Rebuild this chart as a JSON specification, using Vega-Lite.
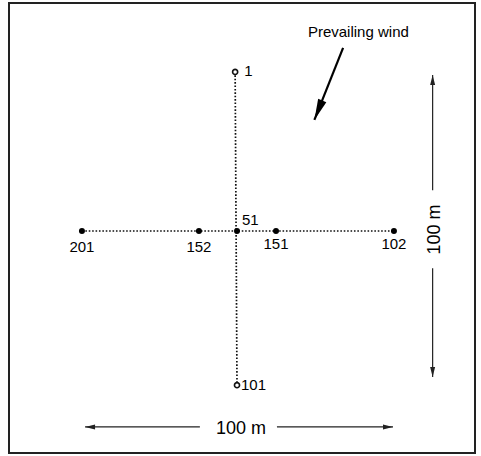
{
  "$schema": "https://vega.github.io/schema/vega-lite/v6.json",
  "width": 466,
  "height": 450,
  "autosize": "none",
  "padding": {"left": 9, "top": 3, "right": 6, "bottom": 3},
  "background": "white",
  "config": {
    "view": {"stroke": "#222", "strokeWidth": 2},
    "text": {"font": "Liberation Sans", "color": "#000"}
  },
  "datasets": {
    "stations": [
      {"id": "1", "x": -0.6, "y": 51, "kind": "open"},
      {"id": "101", "x": 0, "y": -49.4, "kind": "open"},
      {"id": "201", "x": -49.7, "y": 0, "kind": "filled"},
      {"id": "152", "x": -12.2, "y": 0, "kind": "filled"},
      {"id": "51", "x": 0, "y": 0, "kind": "filled"},
      {"id": "151", "x": 12.5, "y": 0, "kind": "filled"},
      {"id": "102", "x": 50.3, "y": 0, "kind": "filled"}
    ],
    "transects": [
      {"x": -49.7, "y": 0, "x2": 50.3, "y2": 0},
      {"x": -0.6, "y": 51, "x2": 0, "y2": -49.4}
    ],
    "dimlines": [
      {"x": -48.7, "y": -62.8, "x2": -11.9, "y2": -62.8},
      {"x": 12.8, "y": -62.8, "x2": 50, "y2": -62.8},
      {"x": 62.7, "y": 50, "x2": 62.7, "y2": 13.1},
      {"x": 62.7, "y": -11.9, "x2": 62.7, "y2": -46.8}
    ],
    "dimheads": [
      {"x": -48.7, "y": -62.8, "dir": 270},
      {"x": 50, "y": -62.8, "dir": 90},
      {"x": 62.7, "y": 50, "dir": 0},
      {"x": 62.7, "y": -46.8, "dir": 180}
    ],
    "dimlabels": [
      {"label": "100 m", "x": 1.3, "y": -62.8, "orient": "horizontal"},
      {"label": "100 m", "x": 63.5, "y": 0.5, "orient": "vertical"}
    ],
    "wind": [
      {"x": 34, "y": 58.7, "x2": 24.8, "y2": 35.6, "dir": 202, "label": "Prevailing wind", "lx": 38.9, "ly": 63.8}
    ]
  },
  "encoding": {
    "x": {"field": "x", "type": "quantitative", "scale": {"domain": [-73.08, 76.28], "nice": false, "zero": false}, "axis": null},
    "y": {"field": "y", "type": "quantitative", "scale": {"domain": [-71.15, 73.08], "nice": false, "zero": false}, "axis": null}
  },
  "layer": [
    {
      "data": {"name": "transects"},
      "mark": {"type": "rule", "strokeDash": [1.6, 1.8], "strokeWidth": 1.7, "color": "#111"},
      "encoding": {"x2": {"field": "x2"}, "y2": {"field": "y2"}}
    },
    {
      "data": {"name": "dimlines"},
      "mark": {"type": "rule", "strokeWidth": 1.2, "color": "#222"},
      "encoding": {"x2": {"field": "x2"}, "y2": {"field": "y2"}}
    },
    {
      "data": {"name": "dimheads"},
      "mark": {"type": "point", "shape": "M0,0L0.5,2L-0.5,2Z", "size": 100, "filled": true, "color": "#222", "opacity": 1},
      "encoding": {"angle": {"field": "dir", "type": "quantitative", "scale": null}}
    },
    {
      "data": {"name": "wind"},
      "mark": {"type": "rule", "strokeWidth": 2.2, "color": "#000"},
      "encoding": {"x2": {"field": "x2"}, "y2": {"field": "y2"}}
    },
    {
      "data": {"name": "wind"},
      "mark": {"type": "point", "shape": "M0,0L0.42,2L-0.42,2Z", "size": 440, "filled": true, "color": "#000", "opacity": 1},
      "encoding": {
        "x": {"field": "x2", "type": "quantitative"},
        "y": {"field": "y2", "type": "quantitative"},
        "angle": {"field": "dir", "type": "quantitative", "scale": null}
      }
    },
    {
      "data": {"name": "wind"},
      "mark": {"type": "text", "fontSize": 15, "baseline": "middle", "align": "center"},
      "encoding": {
        "x": {"field": "lx", "type": "quantitative"},
        "y": {"field": "ly", "type": "quantitative"},
        "text": {"field": "label"}
      }
    },
    {
      "data": {"name": "dimlabels"},
      "transform": [{"filter": "datum.orient === 'horizontal'"}],
      "mark": {"type": "text", "fontSize": 18, "baseline": "middle", "align": "center", "dy": 2},
      "encoding": {"text": {"field": "label"}}
    },
    {
      "data": {"name": "dimlabels"},
      "transform": [{"filter": "datum.orient === 'vertical'"}],
      "mark": {"type": "text", "fontSize": 18, "baseline": "middle", "align": "center", "angle": 270},
      "encoding": {"text": {"field": "label"}}
    },
    {
      "data": {"name": "stations"},
      "transform": [{"filter": "datum.kind === 'filled'"}],
      "mark": {"type": "point", "shape": "circle", "filled": true, "size": 36, "color": "#000", "opacity": 1}
    },
    {
      "data": {"name": "stations"},
      "transform": [{"filter": "datum.kind === 'open'"}],
      "mark": {"type": "point", "shape": "circle", "filled": false, "size": 26, "strokeWidth": 1.6, "color": "#111", "fill": "white", "opacity": 1}
    },
    {
      "data": {"name": "stations"},
      "transform": [{"filter": "datum.id === '201' || datum.id === '152'"}],
      "mark": {"type": "text", "fontSize": 15, "baseline": "middle", "align": "center", "dy": 16},
      "encoding": {"text": {"field": "id"}}
    },
    {
      "data": {"name": "stations"},
      "transform": [{"filter": "datum.id === '151' || datum.id === '102'"}],
      "mark": {"type": "text", "fontSize": 15, "baseline": "middle", "align": "center", "dy": 13},
      "encoding": {"text": {"field": "id"}}
    },
    {
      "data": {"name": "stations"},
      "transform": [{"filter": "datum.id === '51'"}],
      "mark": {"type": "text", "fontSize": 15, "baseline": "middle", "align": "left", "dx": 5, "dy": -11},
      "encoding": {"text": {"field": "id"}}
    },
    {
      "data": {"name": "stations"},
      "transform": [{"filter": "datum.id === '1'"}],
      "mark": {"type": "text", "fontSize": 15, "baseline": "middle", "align": "left", "dx": 9, "dy": -1},
      "encoding": {"text": {"field": "id"}}
    },
    {
      "data": {"name": "stations"},
      "transform": [{"filter": "datum.id === '101'"}],
      "mark": {"type": "text", "fontSize": 15, "baseline": "middle", "align": "left", "dx": 4},
      "encoding": {"text": {"field": "id"}}
    }
  ]
}
